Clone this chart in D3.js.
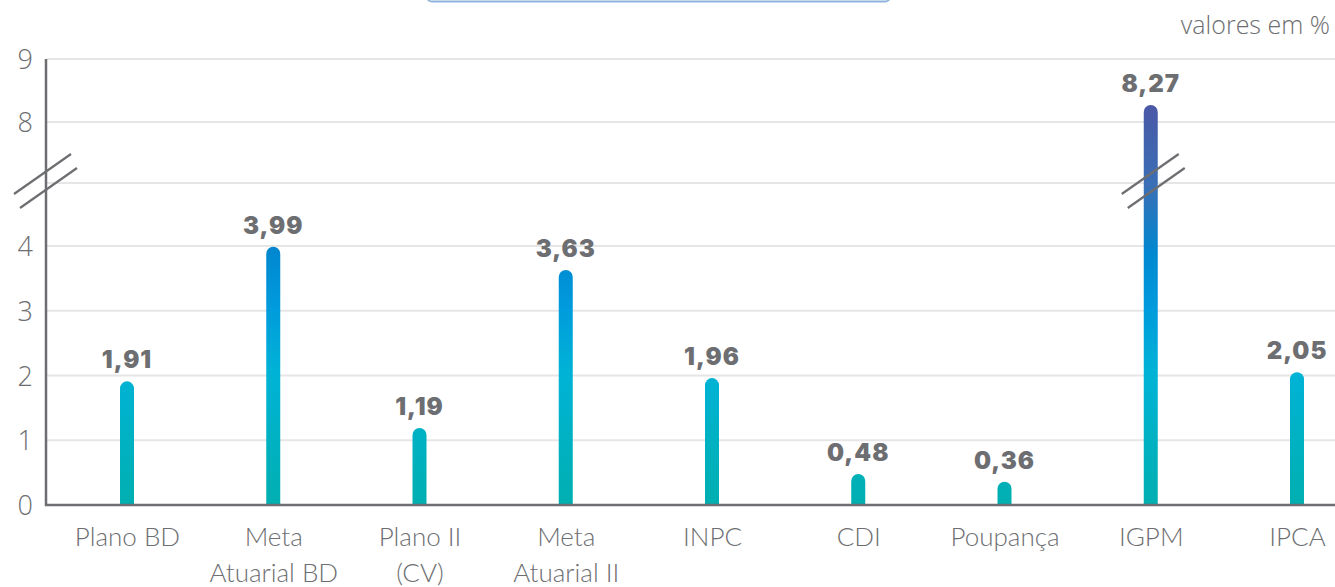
<!DOCTYPE html>
<html>
<head>
<meta charset="utf-8">
<script src="https://cdn.jsdelivr.net/npm/d3@7"></script>
<style>
  html, body { margin: 0; padding: 0; background: #fff; }
  svg { display: block; }
</style>
</head>
<body>
<div id="chart"></div>
<script>
// ---- data ----
const categories = ["Plano BD", "Meta Atuarial BD", "Plano II (CV)", "Meta Atuarial II", "INPC", "CDI", "Poupança", "IGPM", "IPCA"];
const categoryLines = [["Plano BD"], ["Meta", "Atuarial BD"], ["Plano II", "(CV)"], ["Meta", "Atuarial II"], ["INPC"], ["CDI"], ["Poupança"], ["IGPM"], ["IPCA"]];
const values = [1.91, 3.99, 1.19, 3.63, 1.96, 0.48, 0.36, 8.27, 2.05];
const gridTicks = [0, 1, 2, 3, 4, 7, 8, 9];
const labelTicks = [0, 1, 2, 3, 4, 8, 9];
const unitLabel = "valores em %";
const brokenCategory = "IGPM";

// ---- layout ----
const W = 1335, H = 587;
const svg = d3.select("#chart").append("svg").attr("width", W).attr("height", H);

const x = d3.scalePoint().domain(categories).range([127, 1297]);
// broken axis: 4 -> 7 compressed
const y = d3.scaleLinear().domain([0, 4, 7, 8, 9]).range([505, 246, 183, 122, 59]);

const loc = d3.formatLocale({decimal: ",", thousands: ".", grouping: [3], currency: ["R$", ""]});
const fmt = loc.format(".2f");

const gray = "#6d6e71";

// top box remnant
svg.append("rect").attr("x", 427).attr("y", -16).attr("width", 463).attr("height", 17.5)
  .attr("rx", 5).attr("fill", "#fff").attr("stroke", "#8fb3dc").attr("stroke-width", 2);

// gradient (user space, vertical)
const defs = svg.append("defs");
const grad = defs.append("linearGradient").attr("id", "barGrad")
  .attr("gradientUnits", "userSpaceOnUse")
  .attr("x1", 0).attr("x2", 0).attr("y1", y(0)).attr("y2", y(8.27));
[
  [0.00, "#00afb0"],
  [0.16, "#00b1c2"],
  [0.33, "#00b3d6"],
  [0.50, "#009adc"],
  [0.63, "#0088d0"],
  [0.80, "#3a6fb6"],
  [1.00, "#4a58a6"]
].forEach(([o, c]) => grad.append("stop").attr("offset", o).attr("stop-color", c));

// gridlines
svg.append("g").selectAll("line").data(gridTicks.filter(d => d !== 0)).join("line")
  .attr("x1", 47).attr("x2", W).attr("y1", d => y(d)).attr("y2", d => y(d))
  .attr("stroke", "#e6e6e6").attr("stroke-width", 2);

// y tick labels
const yAxis = svg.append("g").attr("transform", "translate(46,0)")
  .call(d3.axisLeft(y).tickValues(labelTicks).tickSize(0).tickPadding(13).tickFormat(d3.format("d")));
yAxis.select(".domain").remove();
yAxis.selectAll("text").attr("font-family", "'Open Sans', sans-serif").attr("font-weight", 300)
  .attr("font-size", 27).attr("fill", gray).attr("dy", "0.36em");

// bars with rounded tops
const bw = 14;
function barPath(d) {
  const cx = x(d.c), top = y(d.v), base = y(0), r = bw / 2;
  return `M${cx - r},${base} L${cx - r},${top + r} A${r},${r} 0 0 1 ${cx + r},${top + r} L${cx + r},${base} Z`;
}
const data = categories.map((c, i) => ({c, v: values[i]}));
svg.append("g").selectAll("path").data(data).join("path")
  .attr("d", barPath).attr("fill", "url(#barGrad)");

// value labels
svg.append("g").selectAll("text").data(data).join("text")
  .attr("x", d => x(d.c)).attr("y", d => y(d.v) - 13)
  .attr("text-anchor", "middle")
  .attr("font-family", "Inter, sans-serif").attr("font-weight", 900)
  .attr("font-size", 24).attr("letter-spacing", 1).attr("fill", gray)
  .text(d => fmt(d.v));

// axes lines
svg.append("line").attr("x1", 46).attr("x2", 46).attr("y1", y(9)).attr("y2", y(0) + 1)
  .attr("stroke", gray).attr("stroke-width", 2.5);
svg.append("line").attr("x1", 45).attr("x2", W).attr("y1", y(0)).attr("y2", y(0))
  .attr("stroke", gray).attr("stroke-width", 2.5);

// x labels
const xAxis = svg.append("g").attr("transform", `translate(0,${y(0)})`)
  .call(d3.axisBottom(x).tickSize(0).tickFormat(""));
xAxis.select(".domain").remove();
xAxis.selectAll(".tick").each(function(d, i) {
  const t = d3.select(this).append("text")
    .attr("text-anchor", "middle").attr("fill", gray)
    .attr("font-family", "Lato, sans-serif").attr("font-weight", 300).attr("font-size", 26);
  categoryLines[i].forEach((line, j) => {
    t.append("tspan").attr("x", 0).attr("y", 41 + j * 36).text(line);
  });
});

// break marks
function breakMarks(cx, cy) {
  const g = svg.append("g").attr("stroke", gray).attr("stroke-width", 2.2);
  [[-28, 13, 29, -27], [-22, 27, 35, -13]].forEach(([a, b, c, e]) => {
    g.append("line").attr("x1", cx + a).attr("y1", cy + b).attr("x2", cx + c).attr("y2", cy + e);
  });
}
breakMarks(42, 181);
breakMarks(x(brokenCategory) - 1, 181);

// unit label
svg.append("text").attr("x", 1330).attr("y", 34).attr("text-anchor", "end")
  .attr("font-family", "'Open Sans', sans-serif").attr("font-weight", 300)
  .attr("font-size", 25).attr("fill", gray).text(unitLabel);
</script>
</body>
</html>
